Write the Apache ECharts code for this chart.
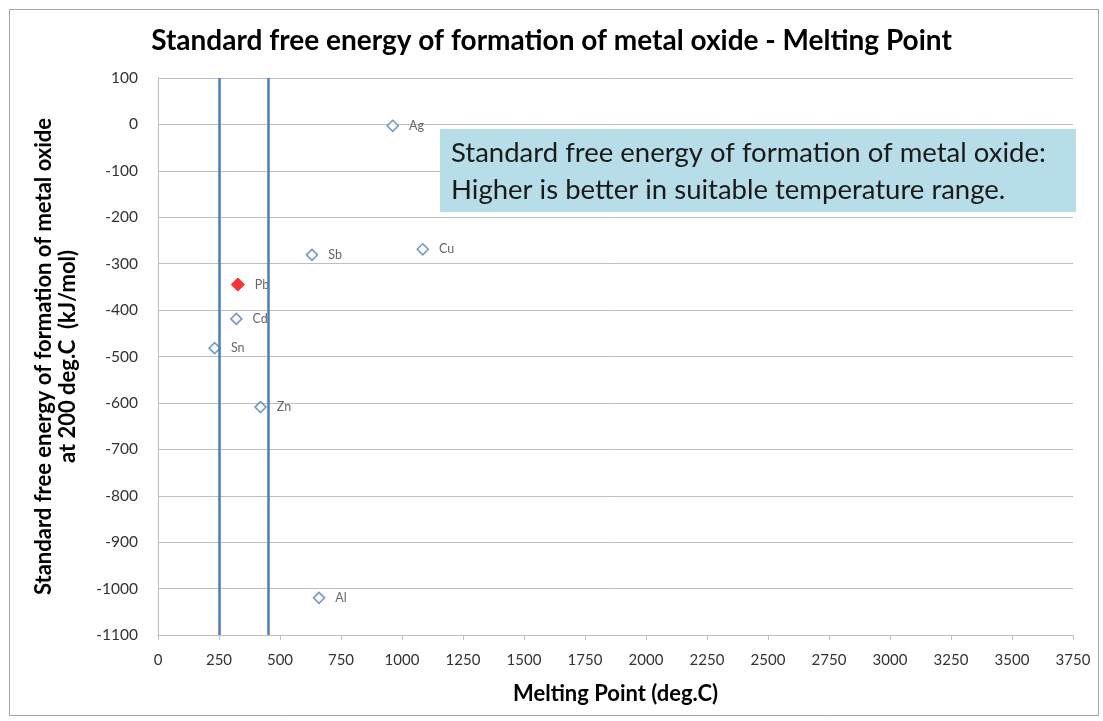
<!DOCTYPE html>
<html><head><meta charset="utf-8">
<script src="https://cdn.jsdelivr.net/npm/echarts@6/dist/echarts.min.js"></script>
<style>html,body{margin:0;padding:0;background:#fff}#c{width:1103px;height:721px}</style>
</head><body><div id="c"></div>
<script>
// Data
const metals = ['Ag','Sb','Cu','Pb','Cd','Sn','Zn','Al'];
const meltingPoint = [962, 631, 1085, 327, 321, 232, 420, 660];
const freeEnergy = [-3, -281, -269, -345, -419, -482, -609, -1020];
const highlight = 'Pb';
const rangeLines = [250, 450];
const xTicks = [0, 3750, 250];
const yTicks = [-1100, 100, 100];

const font = 'Lato';
const normalPts = [], hlPts = [];
metals.forEach((m, i) => {
  const p = {value: [meltingPoint[i], freeEnergy[i]], name: m};
  (m === highlight ? hlPts : normalPts).push(p);
});

const chart = echarts.init(document.getElementById('c'), null, {renderer: 'canvas'});
const lbl = {show: true, position: 'right', distance: 10, formatter: p => p.name,
  color: '#404040', fontFamily: font, fontSize: 12.5};
chart.setOption({
  animation: false,
  backgroundColor: '#fff',
  title: {text: 'Standard free energy of formation of metal oxide - Melting Point',
    left: 'center', top: 22,
    textStyle: {fontFamily: font, fontWeight: 'bold', fontSize: 28, color: '#000'}},
  grid: {left: 158, right: 30, top: 78, bottom: 86, containLabel: false},
  xAxis: {type: 'value', min: xTicks[0], max: xTicks[1], interval: xTicks[2],
    name: 'Melting Point (deg.C)', nameLocation: 'middle', nameGap: 48,
    nameTextStyle: {fontFamily: font, fontWeight: 'bold', fontSize: 22, color: '#000'},
    axisLine: {show: true, onZero: false, lineStyle: {color: '#bfbfbf'}},
    axisTick: {show: true, length: 5, lineStyle: {color: '#bfbfbf'}},
    splitLine: {show: false},
    axisLabel: {fontFamily: font, fontSize: 15, color: '#333', margin: 18,
      formatter: v => String(v)}},
  yAxis: {type: 'value', min: yTicks[0], max: yTicks[1], interval: yTicks[2],
    name: 'Standard free energy of formation of metal oxide\nat 200 deg.C  (kJ/mol)',
    nameLocation: 'middle', nameGap: 78, nameRotate: 90,
    nameTextStyle: {fontFamily: font, fontWeight: 'bold', fontSize: 22, color: '#000', lineHeight: 24},
    axisLine: {show: true, onZero: false, lineStyle: {color: '#bfbfbf'}},
    axisTick: {show: false},
    splitLine: {show: true, lineStyle: {color: '#bfbfbf', width: 1}},
    axisLabel: {fontFamily: font, fontSize: 15.5, color: '#333', margin: 20,
      formatter: v => String(v)}},
  series: [
    {type: 'scatter', data: normalPts, symbol: 'diamond', symbolSize: 11,
      itemStyle: {color: '#fff', borderColor: '#4f81bd', borderWidth: 1.6},
      label: lbl,
      markLine: {silent: true, symbol: 'none', label: {show: false},
        lineStyle: {color: '#4a7ebb', width: 2.5, type: 'solid'},
        data: rangeLines.map(v => ({xAxis: v}))}},
    {type: 'scatter', data: hlPts, symbol: 'diamond', symbolSize: 13,
      itemStyle: {color: '#ff0000', borderColor: '#ff0000', borderWidth: 1},
      label: lbl}
  ],
  graphic: [
    {type: 'rect', left: 7, top: 7, shape: {width: 1089, height: 706},
      style: {fill: 'none', stroke: '#a6a6a6', lineWidth: 1}, silent: true},
    {type: 'rect', left: 440, top: 129, shape: {width: 636, height: 83},
      style: {fill: '#b7dde8'}, z: 10},
    {type: 'text', left: 451, top: 135, z: 11,
      style: {text: 'Standard free energy of formation of metal oxide:\nHigher is better in suitable temperature range.',
        font: '27.5px Lato', fill: '#1a1a1a', lineHeight: 37}}
  ]
});
</script></body></html>
